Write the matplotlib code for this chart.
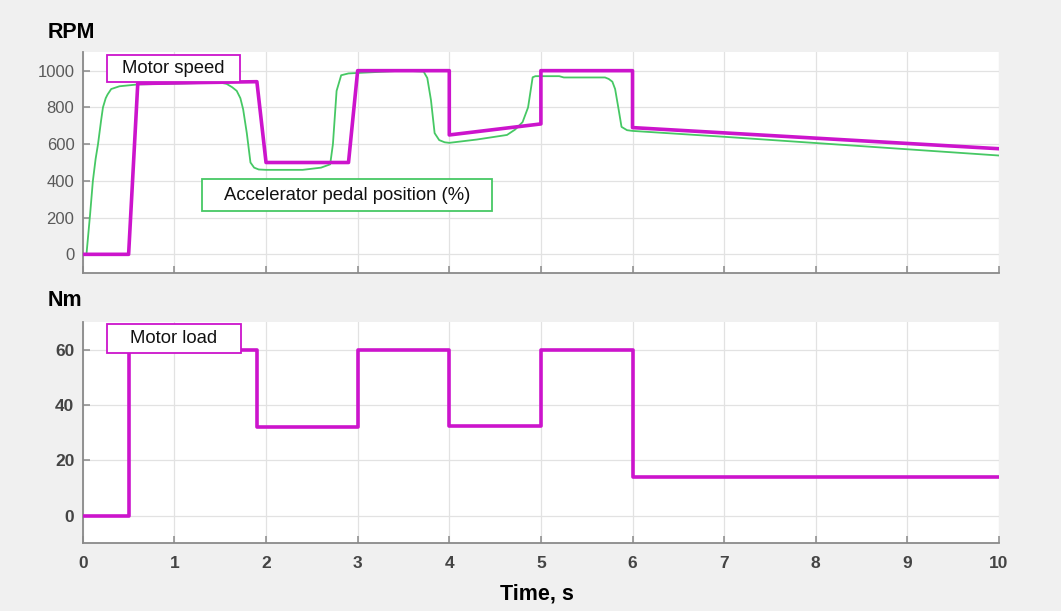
import matplotlib
matplotlib.use('Agg')
import matplotlib.pyplot as plt
from matplotlib.patches import Rectangle

plt.rcParams['font.family'] = ['Liberation Sans', 'DejaVu Sans']

# Motor speed, RPM (piecewise)
speed_t = [0, 0.5, 0.6, 1.9, 2.0, 2.9, 3.0, 4.0, 4.0, 5.0, 5.0, 6.0, 6.0, 10]
speed_v = [0, 0, 930, 940, 500, 500, 1000, 1000, 650, 710, 1000, 1000, 690, 575]

# Accelerator pedal position, scaled to RPM axis
pedal_t = [0, 0.04, 0.08, 0.11, 0.14, 0.166, 0.2, 0.22, 0.25, 0.27, 0.31, 0.4, 0.5,
           0.6, 1.5, 1.57, 1.63, 1.68, 1.72, 1.75, 1.79, 1.83, 1.87, 1.92, 2.0,
           2.4, 2.6, 2.7, 2.73, 2.77, 2.82, 2.9, 3.5, 3.72, 3.76, 3.8, 3.84, 3.89,
           3.95, 4.0, 4.3, 4.63, 4.72, 4.8, 4.86, 4.91, 4.94, 5.2, 5.25, 5.7,
           5.74, 5.78, 5.81, 5.85, 5.88, 5.94, 6.0, 7, 8, 9, 10]
pedal_v = [0, 0, 220, 400, 520, 600, 730, 800, 850, 870, 900, 915, 920,
           925, 935, 928, 910, 890, 850, 790, 660, 500, 472, 462, 460,
           460, 472, 490, 600, 890, 975, 985, 1000, 995, 960, 840, 660, 622,
           610, 607, 625, 650, 680, 720, 800, 964, 970, 970, 963, 963,
           955, 940, 900, 784, 694, 676, 672, 640, 606, 572, 538]

# Motor load, Nm
load_t = [0, 0.5, 0.5, 1.9, 1.9, 3.0, 3.0, 4.0, 4.0, 5.0, 5.0, 6.0, 6.0, 10]
load_v = [0, 0, 60, 60, 32, 32, 60, 60, 32.5, 32.5, 60, 60, 14, 14]

magenta = '#cc14cc'
green = '#46c864'
W, H = 1061, 611

fig = plt.figure(figsize=(W / 100, H / 100), dpi=100)
fig.patch.set_facecolor('#f0f0f0')


def px_axes(x0, y0, x1, y1):
    return [x0 / W, 1 - y1 / H, (x1 - x0) / W, (y1 - y0) / H]


ax1 = fig.add_axes(px_axes(82.8, 52.3, 999, 272.7))
ax2 = fig.add_axes(px_axes(82.8, 322.3, 999, 543.3))

for ax in (ax1, ax2):
    ax.set_facecolor('white')
    ax.set_xlim(0, 10)
    ax.set_xticks(range(0, 11))
    ax.grid(True, color='#e2e2e2', lw=0.9)
    ax.set_axisbelow(True)
    for s in ('top', 'right'):
        ax.spines[s].set_visible(False)
    for s in ('left', 'bottom'):
        ax.spines[s].set_color('#8a8a8a')
        ax.spines[s].set_linewidth(1.3)
    ax.tick_params(direction='in', length=5, width=1.1, color='#8a8a8a',
                   labelcolor='#5a5a5a', labelsize=12, pad=6)

ax1.plot(pedal_t, pedal_v, color=green, lw=1.3, zorder=3)
ax1.plot(speed_t, speed_v, color=magenta, lw=2.6, zorder=4)
ax1.set_ylim(-100, 1100)
ax1.set_yticks(range(0, 1001, 200))
ax1.tick_params(axis='x', labelbottom=False)

ax2.plot(load_t, load_v, color=magenta, lw=2.6, zorder=4)
ax2.set_ylim(-10, 70)
ax2.set_yticks(range(0, 61, 20))
ax2.tick_params(labelsize=12.5)
ax2.tick_params(axis='x', pad=9)
for lab in ax2.get_xticklabels() + ax2.get_yticklabels():
    lab.set_fontweight('bold')
    lab.set_color('#444444')

fig.text(48 / W, 1 - 33 / H, 'RPM', fontsize=15.5, fontweight='bold', va='center', ha='left')
fig.text(48 / W, 1 - 300 / H, 'Nm', fontsize=15.5, fontweight='bold', va='center', ha='left')
fig.text(537 / W, 1 - 594 / H, 'Time, s', fontsize=15.5, fontweight='bold', va='center', ha='center')


def label_box(ax, x0, y0, x1, y1, text, edge):
    r = Rectangle((x0 / W, 1 - y1 / H), (x1 - x0) / W, (y1 - y0) / H,
                  transform=fig.transFigure, facecolor='white', edgecolor=edge,
                  lw=1.3, zorder=10, clip_on=False)
    ax.add_patch(r)
    ax.text((x0 + x1) / 2 / W, 1 - (y0 + y1) / 2 / H, text, transform=fig.transFigure,
            ha='center', va='center', fontsize=13.3, color='#111111', zorder=11)


label_box(ax1, 107, 55, 240, 82, 'Motor speed', magenta)
label_box(ax1, 202, 179, 492, 211, 'Accelerator pedal position (%)', green)
label_box(ax2, 107, 324, 241, 353, 'Motor load', magenta)

fig.savefig('out.png', dpi=100, facecolor=fig.get_facecolor())
